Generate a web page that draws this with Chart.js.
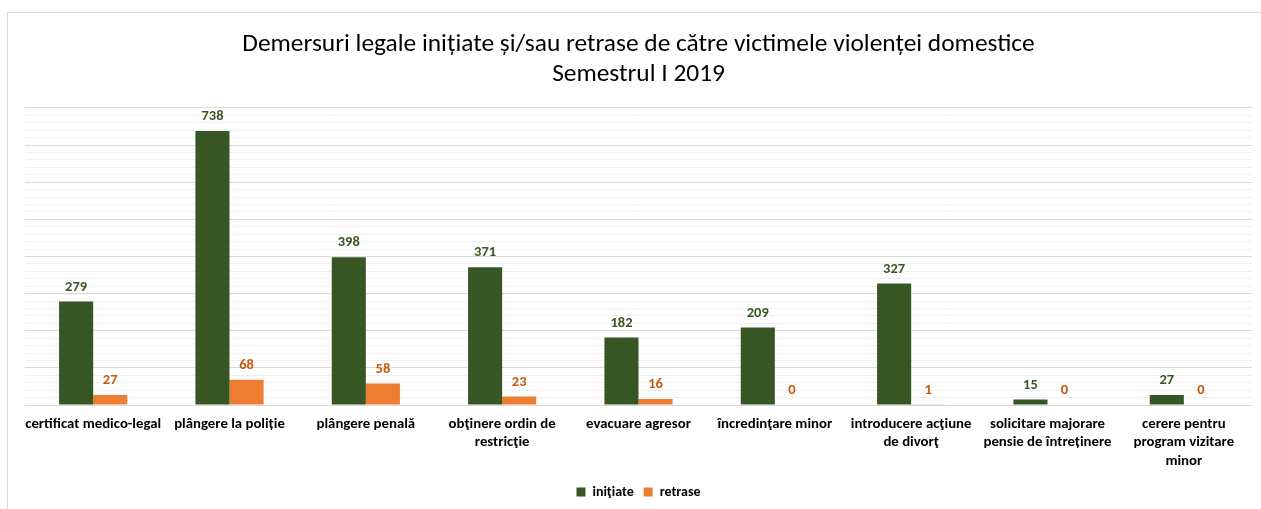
<!DOCTYPE html>
<html>
<head>
<meta charset="utf-8">
<script src="https://cdn.jsdelivr.net/npm/chart.js@4.4.1/dist/chart.umd.min.js"></script>
<style>
  html, body { margin: 0; padding: 0; background: #ffffff; }
  #wrap { position: relative; width: 1261px; height: 509px; overflow: hidden; }
  #frame { position: absolute; left: 7px; top: 12px; width: 1300px; height: 600px;
           border-left: 1px solid #d9d9d9; border-top: 1px solid #d9d9d9; }
  canvas { position: absolute; left: 0; top: 0; }
</style>
</head>
<body>
<div id="wrap">
  <div id="frame"></div>
  <canvas id="c" width="1261" height="509"></canvas>
</div>
<script>
const titleLines = ["Demersuri legale inițiate și/sau retrase de către victimele violenței domestice", "Semestrul I 2019"];
const categories = [
  "certificat medico-legal",
  "plângere la poliție",
  "plângere penală",
  ["obţinere ordin de", "restricţie"],
  "evacuare agresor",
  "încredinţare minor",
  ["introducere acţiune", "de divorţ"],
  ["solicitare majorare", "pensie de întreținere"],
  ["cerere pentru", "program vizitare", "minor"]
];
const seriesNames = ["iniţiate", "retrase"];
const initiate = [279, 738, 398, 371, 182, 209, 327, 15, 27];
const retrase = [27, 68, 58, 23, 16, 0, 1, 0, 0];
const yMin = 0, yMax = 800, yStep = 20;

const FONT = "Calibri, Carlito, Lato, 'Open Sans', sans-serif";
const barColors = ["#375623", "#ED7D31"];
const labelColors = ["#375623", "#C55A11"];

const valueLabels = {
  id: 'valueLabels',
  afterDatasetsDraw(chart) {
    const ctx = chart.ctx;
    ctx.save();
    ctx.font = "bold 14.5px " + FONT;
    ctx.textAlign = 'center';
    ctx.textBaseline = 'middle';
    chart.data.datasets.forEach((ds, i) => {
      const meta = chart.getDatasetMeta(i);
      ctx.fillStyle = labelColors[i];
      meta.data.forEach((bar, j) => {
        ctx.fillText(String(ds.data[j]), bar.x, bar.y - 14.5);
      });
    });
    ctx.restore();
  }
};

new Chart(document.getElementById('c'), {
  type: 'bar',
  data: {
    labels: categories,
    datasets: [
      { label: seriesNames[0], data: initiate, backgroundColor: barColors[0], borderWidth: 0 },
      { label: seriesNames[1], data: retrase, backgroundColor: barColors[1], borderWidth: 0 }
    ]
  },
  options: {
    responsive: false,
    animation: false,
    devicePixelRatio: 1,
    layout: { padding: { left: 25, right: 9, top: 0, bottom: 0 } },
    datasets: { bar: { categoryPercentage: 0.5, barPercentage: 1.0 } },
    scales: {
      x: {
        grid: { display: false },
        border: { display: false },
        ticks: {
          color: '#000000',
          font: { family: FONT, size: 14.8, weight: 'bold', lineHeight: 1.25 },
          padding: 2,
          maxRotation: 0,
          autoSkip: false
        },
        afterFit(s) { s.height = 70; }
      },
      y: {
        min: yMin, max: yMax,
        border: { display: false },
        grid: {
          drawTicks: false,
          lineWidth: 1,
          color(ctx) {
            const v = ctx.tick ? ctx.tick.value : 0;
            return (v % 100 === 0) ? '#d9d9d9' : '#f0f0f0';
          }
        },
        ticks: { display: false, stepSize: yStep },
        afterFit(s) { s.width = 0; }
      }
    },
    plugins: {
      title: {
        display: true,
        text: titleLines,
        color: '#000000',
        font: { family: FONT, size: 25.4, weight: 'normal', lineHeight: 1.18 },
        padding: { top: 30, bottom: 18 }
      },
      legend: {
        position: 'bottom',
        labels: {
          color: '#000000',
          font: { family: FONT, size: 14, weight: 'bold' },
          boxWidth: 9, boxHeight: 9,
          padding: 10
        }
      },
      tooltip: { enabled: false }
    }
  },
  plugins: [valueLabels]
});
</script>
</body>
</html>
